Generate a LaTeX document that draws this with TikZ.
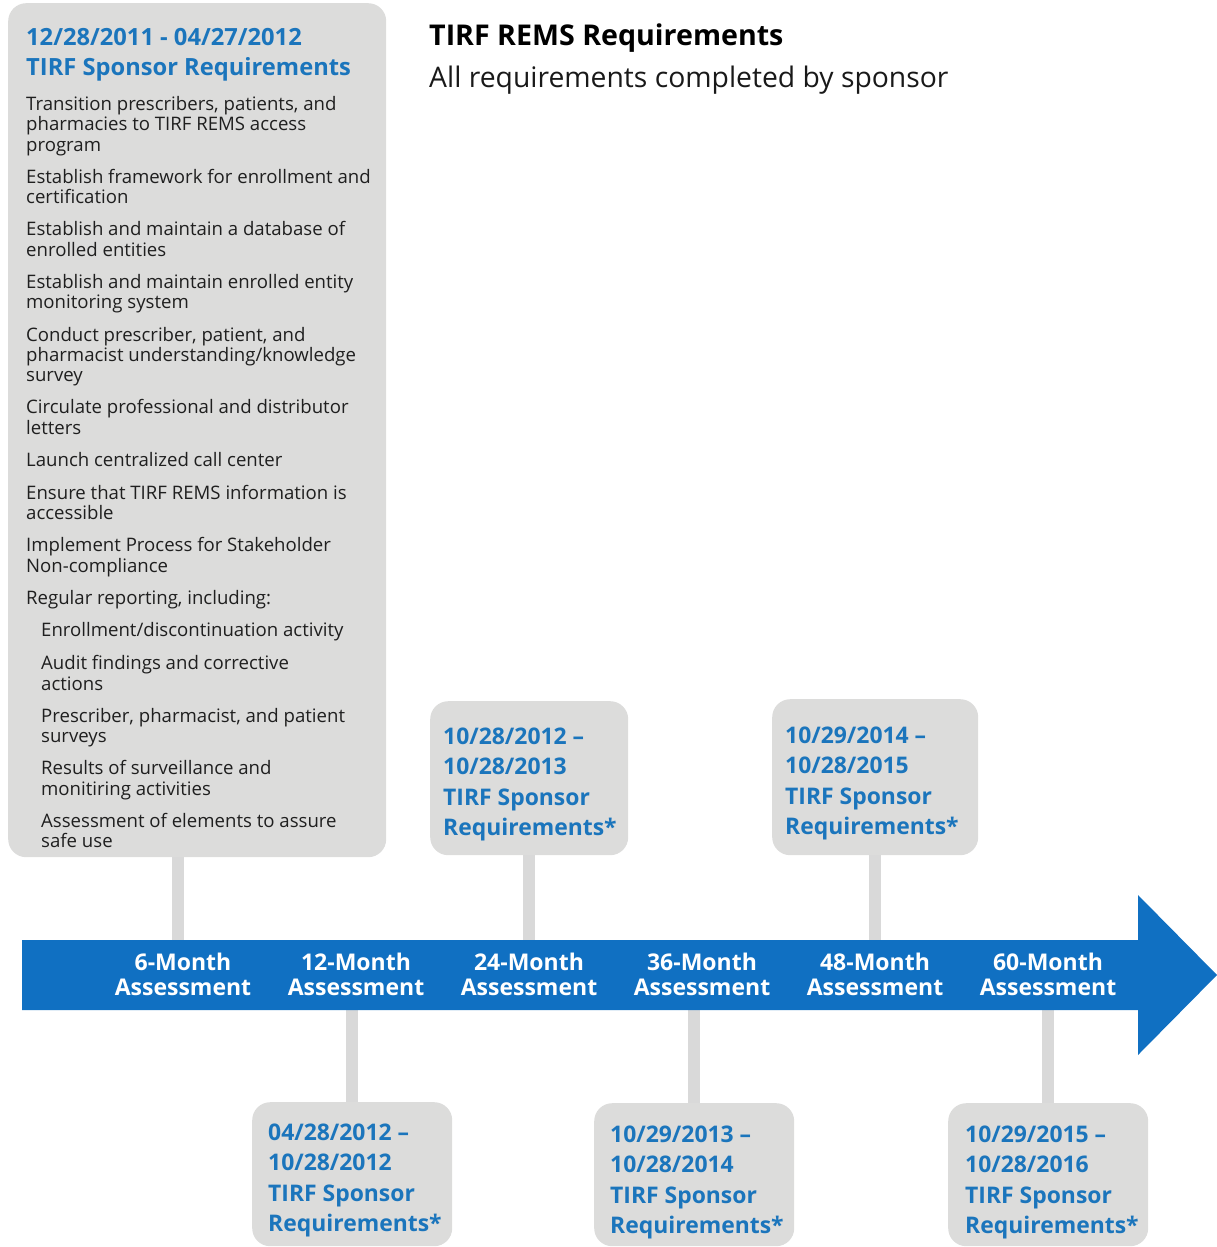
\documentclass[tikz,border=0pt]{standalone}
\usepackage{fontspec}
\setmainfont{Open Sans}
\definecolor{boxgray}{HTML}{DCDCDB}
\definecolor{conngray}{HTML}{D9D9D9}
\definecolor{bandblue}{HTML}{1070C2}
\definecolor{txtblue}{HTML}{1B75BC}
\tikzset{
  gbox/.style={fill=boxgray, draw=none, rounded corners=18pt, anchor=north west, inner sep=0pt},
  conn/.style={draw=conngray, line width=12pt},
  body/.style={anchor=mid west, inner sep=0pt, font=\fontsize{18.6}{20}\selectfont, text=black!88, yshift=-5pt},
  head/.style={anchor=mid west, inner sep=0pt, font=\fontsize{23.7}{26}\selectfont\bfseries, text=txtblue, yshift=-7pt},
  sbox/.style={anchor=mid west, inner sep=0pt, font=\fontsize{22.9}{26}\selectfont\bfseries, text=txtblue, yshift=-7pt},
  mlabel/.style={align=center, inner sep=0pt, font=\fontsize{23}{25}\selectfont\bfseries, text=white},
}
\begin{document}
\begin{tikzpicture}[x=1pt,y=-1pt]
\useasboundingbox (0,0) rectangle (1217,1247);
% boxes
\node[gbox, minimum width=378pt, minimum height=854pt] (big) at (8,3) {};
\node[gbox, minimum width=198pt, minimum height=154pt] (b24) at (430,701) {};
\node[gbox, minimum width=206pt, minimum height=156pt] (b48) at (772,699) {};
\node[gbox, minimum width=200pt, minimum height=144pt] (b12) at (252,1102) {};
\node[gbox, minimum width=200pt, minimum height=143pt] (b36) at (594,1103) {};
\node[gbox, minimum width=200pt, minimum height=143pt] (b60) at (948,1103) {};
% band coordinates
\coordinate (t6) at (178,942);
\coordinate (t12) at (352,1008);
\coordinate (t24) at (529,942);
\coordinate (t36) at (694,1008);
\coordinate (t48) at (875,942);
\coordinate (t60) at (1048,1008);
% connectors
\draw[conn] (t6 |- big.south) -- (t6);
\draw[conn] (t24 |- b24.south) -- (t24);
\draw[conn] (t48 |- b48.south) -- (t48);
\draw[conn] (t12) -- (t12 |- b12.north);
\draw[conn] (t36) -- (t36 |- b36.north);
\draw[conn] (t60) -- (t60 |- b60.north);
% arrow band
\fill[bandblue] (22,940) -- (1138,940) -- (1138,895) -- (1217,975) -- (1138,1055) -- (1138,1010) -- (22,1010) -- cycle;
\node[mlabel] (m6) at (183,974) {6-Month\\Assessment};
\node[mlabel] (m12) at (356,974) {12-Month\\Assessment};
\node[mlabel] (m24) at (529,974) {24-Month\\Assessment};
\node[mlabel] (m36) at (702,974) {36-Month\\Assessment};
\node[mlabel] (m48) at (875,974) {48-Month\\Assessment};
\node[mlabel] (m60) at (1048,974) {60-Month\\Assessment};
% title
\node[anchor=mid west, inner sep=0pt, font=\fontsize{28.6}{30}\selectfont\bfseries] (title) at (429,43) {TIRF REMS Requirements};
\node[anchor=mid west, inner sep=0pt, font=\fontsize{28.3}{30}\selectfont, text=black!90] (sub) at (429,85) {All requirements completed by sponsor};
% big box header
\node[head] (h1) at (26,36) {12/28/2011 - 04/27/2012};
\node[head] (h2) at (26,66) {TIRF Sponsor Requirements};
% big box body
\node[body] (l1) at (26,103) {Transition prescribers, patients, and};
\node[body] (l2) at (26,123) {pharmacies to TIRF REMS access};
\node[body] (l3) at (26,144) {program};
\node[body] (l4) at (26,176) {Establish framework for enrollment and};
\node[body] (l5) at (26,196) {certification};
\node[body] (l6) at (26,228) {Establish and maintain a database of};
\node[body] (l7) at (26,249) {enrolled entities};
\node[body] (l8) at (26,281) {Establish and maintain enrolled entity};
\node[body] (l9) at (26,301) {monitoring system};
\node[body] (l10) at (26,334) {Conduct prescriber, patient, and};
\node[body] (l11) at (26,354) {pharmacist understanding/knowledge};
\node[body] (l12) at (26,374) {survey};
\node[body] (l13) at (26,406) {Circulate professional and distributor};
\node[body] (l14) at (26,427) {letters};
\node[body] (l15) at (26,459) {Launch centralized call center};
\node[body] (l16) at (26,492) {Ensure that TIRF REMS information is};
\node[body] (l17) at (26,512) {accessible};
\node[body] (l18) at (26,544) {Implement Process for Stakeholder};
\node[body] (l19) at (26,565) {Non-compliance};
\node[body] (l20) at (26,597) {Regular reporting, including:};
\node[body] (l21) at (41,629) {Enrollment/discontinuation activity};
\node[body] (l22) at (41,662) {Audit findings and corrective};
\node[body] (l23) at (41,683) {actions};
\node[body] (l24) at (41,715) {Prescriber, pharmacist, and patient};
\node[body] (l25) at (41,735) {surveys};
\node[body] (l26) at (41,767) {Results of surveillance and};
\node[body] (l27) at (41,788) {monitiring activities};
\node[body] (l28) at (41,820) {Assessment of elements to assure};
\node[body] (l29) at (41,840) {safe use};
% small boxes text
\node[sbox] (s24a) at (443,735) {10/28/2012 –};
\node[sbox] (s24b) at (443,765) {10/28/2013};
\node[sbox] (s24c) at (443,796) {TIRF Sponsor};
\node[sbox] (s24d) at (443,826) {Requirements*};
\node[sbox] (s48a) at (785,734) {10/29/2014 –};
\node[sbox] (s48b) at (785,764) {10/28/2015};
\node[sbox] (s48c) at (785,795) {TIRF Sponsor};
\node[sbox] (s48d) at (785,825) {Requirements*};
\node[sbox] (s12a) at (268,1131) {04/28/2012 –};
\node[sbox] (s12b) at (268,1161) {10/28/2012};
\node[sbox] (s12c) at (268,1192) {TIRF Sponsor};
\node[sbox] (s12d) at (268,1222) {Requirements*};
\node[sbox] (s36a) at (610,1133) {10/29/2013 –};
\node[sbox] (s36b) at (610,1163) {10/28/2014};
\node[sbox] (s36c) at (610,1194) {TIRF Sponsor};
\node[sbox] (s36d) at (610,1224) {Requirements*};
\node[sbox] (s60a) at (965,1133) {10/29/2015 –};
\node[sbox] (s60b) at (965,1163) {10/28/2016};
\node[sbox] (s60c) at (965,1194) {TIRF Sponsor};
\node[sbox] (s60d) at (965,1224) {Requirements*};
\end{tikzpicture}
\end{document}
